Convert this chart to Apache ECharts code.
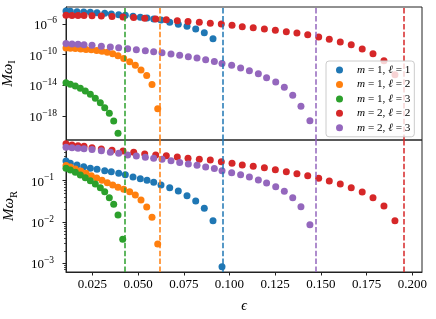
<!DOCTYPE html>
<html><head><meta charset="utf-8">
<script src="https://cdn.jsdelivr.net/npm/echarts@6/dist/echarts.min.js"></script>
<style>html,body{margin:0;padding:0;background:#fff}#c{width:436px;height:319px}</style>
</head><body><div id="c"></div>
<script>
// ---- data ----
const seriesNames = ['m=1,l=1', 'm=1,l=2', 'm=1,l=3', 'm=2,l=2', 'm=2,l=3'];
const seriesColors = ['#1f77b4', '#ff7f0e', '#2ca02c', '#d62728', '#9467bd'];

const m1l1Eps = [0.0106, 0.01296, 0.01662, 0.02029, 0.0239, 0.02756, 0.03177, 0.03538, 0.03943, 0.04304, 0.04725, 0.05124, 0.05491, 0.05857, 0.06256, 0.06732, 0.07202, 0.07678, 0.08154, 0.08624, 0.091, 0.09592];
const m1l1Im = [4.95e-5, 4.49e-5, 4.06e-5, 3.67e-5, 3.33e-5, 3.02e-5, 2.45e-5, 2.01e-5, 1.66e-5, 1.35e-5, 1.0e-5, 7.41e-6, 6.03e-6, 4.47e-6, 3.31e-6, 1.66e-6, 9.12e-7, 5.01e-7, 2.24e-7, 7.41e-8, 1.23e-8, null];
const m1l1Re = [0.30, 0.264, 0.240, 0.219, 0.1995, 0.189, 0.175, 0.165, 0.151, 0.140, 0.123, 0.112, 0.102, 0.0914, 0.0787, 0.0678, 0.0564, 0.0434, 0.0324, 0.0214, 0.0107, 8.3e-4];

const m1l2Eps = [0.0106, 0.01296, 0.0157, 0.01865, 0.02155, 0.02445, 0.0274, 0.0303, 0.0332, 0.03615, 0.03905, 0.04216, 0.04544, 0.04851, 0.05162, 0.05474, 0.05764, 0.06076];
const m1l2Im = [7.43e-10, 6.79e-10, 6.21e-10, 5.51e-10, 4.88e-10, 4.33e-10, 3.61e-10, 2.84e-10, 2.04e-10, 1.30e-10, 7.14e-11, 3.18e-11, 1.18e-11, 4.12e-12, 1.01e-12, 1.93e-13, 1.29e-14, 9.06e-18];
const m1l2Re = [0.234, 0.215, 0.192, 0.172, 0.151, 0.132, 0.116, 0.102, 0.0895, 0.0787, 0.0692, 0.0619, 0.0542, 0.0451, 0.0341, 0.0231, 0.0130, 0.00293];

const m1l3Eps = [0.0106, 0.01296, 0.0157, 0.01843, 0.02116, 0.0239, 0.02663, 0.02937, 0.03177, 0.03429, 0.03669, 0.03905, 0.04162];
const m1l3Im = [2.22e-14, 1.37e-14, 8.26e-15, 4.14e-15, 1.84e-15, 6.84e-16, 2.06e-16, 5.50e-17, 1.22e-17, 2.28e-18, 2.25e-19, 5.62e-21, null];
const m1l3Re = [0.1995, 0.182, 0.160, 0.137, 0.118, 0.100, 0.0832, 0.0678, 0.0542, 0.0387, 0.0269, 0.0148, 0.00381];

const m2l2Eps = [0.01061, 0.01389, 0.01717, 0.02045, 0.02483, 0.02991, 0.03577, 0.04178, 0.04763, 0.05365, 0.05966, 0.06546, 0.07147, 0.07733, 0.08351, 0.08952, 0.09554, 0.1014, 0.1070, 0.1130, 0.1191, 0.1251, 0.1311, 0.1369, 0.1428, 0.1488, 0.1546, 0.1606, 0.1666, 0.1726, 0.1785, 0.1845, 0.1905];
const m2l2Im = [1.36e-5, 1.32e-5, 1.28e-5, 1.24e-5, 1.17e-5, 1.10e-5, 9.51e-6, 8.18e-6, 6.82e-6, 5.53e-6, 4.49e-6, 3.53e-6, 2.69e-6, 2.12e-6, 1.67e-6, 1.23e-6, 1.0e-6, 6.76e-7, 4.45e-7, 3.30e-7, 2.23e-7, 1.51e-7, 9.91e-8, 6.71e-8, 4.03e-8, 2.02e-8, 1.01e-8, 4.50e-9, 2.0e-9, 5.50e-10, 1.34e-10, 1.64e-11, 2.45e-13];
const m2l2Re = [0.79, 0.731, 0.703, 0.681, 0.630, 0.586, 0.545, 0.524, 0.488, 0.444, 0.419, 0.403, 0.375, 0.348, 0.330, 0.317, 0.288, 0.264, 0.240, 0.223, 0.207, 0.185, 0.165, 0.148, 0.132, 0.114, 0.0984, 0.0832, 0.0678, 0.0532, 0.0387, 0.0244, 0.0107];

const m2l3Eps = [0.01061, 0.01389, 0.01717, 0.02045, 0.02483, 0.02993, 0.03485, 0.03941, 0.04433, 0.04907, 0.05399, 0.05855, 0.06311, 0.06803, 0.07277, 0.07751, 0.08225, 0.08699, 0.09173, 0.09592, 0.1012, 0.1061, 0.1109, 0.1158, 0.1203, 0.1253, 0.1300, 0.1346, 0.1391, 0.1440];
const m2l3Im = [2.87e-9, 2.54e-9, 2.25e-9, 2.0e-9, 1.67e-9, 1.28e-9, 1.0e-9, 7.89e-10, 6.03e-10, 4.46e-10, 3.30e-10, 2.45e-10, 1.81e-10, 1.23e-10, 8.30e-11, 5.46e-11, 3.69e-11, 2.21e-11, 1.29e-11, 7.08e-12, 4.12e-12, 1.83e-12, 8.15e-13, 3.31e-13, 1.0e-13, 2.74e-14, 5.58e-15, 5.06e-16, 1.86e-17, 2.47e-19];
const m2l3Re = [0.646, 0.624, 0.608, 0.592, 0.569, 0.533, 0.486, 0.460, 0.419, 0.396, 0.368, 0.348, 0.329, 0.305, 0.274, 0.254, 0.236, 0.215, 0.197, 0.175, 0.156, 0.140, 0.123, 0.104, 0.0879, 0.0716, 0.0553, 0.0387, 0.0234, 0.00861];

const critEps = [0.0963, 0.0616, 0.0425, 0.1955, 0.1473];

const xTicks = [0.025, 0.05, 0.075, 0.1, 0.125, 0.15, 0.175, 0.2];
const yTopTicks = [1e-18, 1e-14, 1e-10, 1e-6];
const yBotTicks = [1e-3, 1e-2, 1e-1];
const yBotMinor = [7e-4, 8e-4, 9e-4, 2e-3, 3e-3, 4e-3, 5e-3, 6e-3, 7e-3, 8e-3, 9e-3, 2e-2, 3e-2, 4e-2, 5e-2, 6e-2, 7e-2, 8e-2, 9e-2, 0.2, 0.3, 0.4, 0.5, 0.6, 0.7, 0.8, 0.9];

const xMin = 0.0106, xMax = 0.2053;
const yTopMin = 7.41e-22, yTopMax = 1.648e-4;
const yBotMin = 6.16e-4, yBotMax = 0.967;

// ---- build ----
const FONT = '"Liberation Serif", "DejaVu Serif", serif';
const allEps = [m1l1Eps, m1l2Eps, m1l3Eps, m2l2Eps, m2l3Eps];
const allIm = [m1l1Im, m1l2Im, m1l3Im, m2l2Im, m2l3Im];
const allRe = [m1l1Re, m1l2Re, m1l3Re, m2l2Re, m2l3Re];

function pairs(xs, ys) {
  const out = [];
  xs.forEach((x, i) => { if (ys[i] != null) out.push([x, ys[i]]); });
  return out;
}
function powLabel(v) {
  const e = Math.round(Math.log10(v));
  return '{b|10}{s|' + (e < 0 ? '\u2212' : '') + Math.abs(e) + '}';
}
const powRich = {
  b: { fontFamily: FONT, fontSize: 13, lineHeight: 16, verticalAlign: 'bottom', color: '#000' },
  s: { fontFamily: FONT, fontSize: 9.5, lineHeight: 9, verticalAlign: 'top', color: '#000' }
};

const series = [];
seriesNames.forEach((name, k) => {
  const mk = () => ({
    silent: true, symbol: 'none', label: { show: false }, animation: false, precision: 6,
    lineStyle: { color: seriesColors[k], type: [5.5, 2.4], width: 1.5, opacity: 1 },
    emphasis: { disabled: true },
    data: [{ xAxis: critEps[k] }]
  });
  series.push({
    type: 'scatter', name, xAxisIndex: 0, yAxisIndex: 0,
    data: pairs(allEps[k], allIm[k]), symbolSize: 7,
    itemStyle: { color: seriesColors[k], opacity: 1 },
    emphasis: { disabled: true }, markLine: mk()
  });
  series.push({
    type: 'scatter', name, xAxisIndex: 1, yAxisIndex: 1,
    data: pairs(allEps[k], allRe[k]), symbolSize: 7,
    itemStyle: { color: seriesColors[k], opacity: 1 },
    emphasis: { disabled: true }, markLine: mk()
  });
});

const legendLabels = {
  'm=1,l=1': ['1', '1'], 'm=1,l=2': ['1', '2'], 'm=1,l=3': ['1', '3'],
  'm=2,l=2': ['2', '2'], 'm=2,l=3': ['2', '3']
};

const axisLineStyle = { color: '#222', width: 1 };
const nameRich = {
  i: { fontFamily: FONT, fontSize: 15, fontStyle: 'italic', lineHeight: 18, verticalAlign: 'top', color: '#000' },
  s: { fontFamily: FONT, fontSize: 10.5, lineHeight: 10, verticalAlign: 'bottom', color: '#000' }
};

const option = {
  animation: false,
  backgroundColor: '#fff',
  grid: [
    { left: 66, top: 7, width: 356, height: 133, show: true, borderColor: '#222', borderWidth: 1, backgroundColor: 'transparent', containLabel: false, outerBoundsMode: 'none' },
    { left: 66, top: 140, width: 356, height: 132, show: true, borderColor: '#222', borderWidth: 1, backgroundColor: 'transparent', containLabel: false, outerBoundsMode: 'none' }
  ],
  xAxis: [
    { type: 'value', gridIndex: 0, min: xMin, max: xMax, axisLine: { show: false }, axisTick: { show: false }, axisLabel: { show: false }, splitLine: { show: false } },
    { type: 'value', gridIndex: 1, min: xMin, max: xMax,
      axisLine: { show: true, lineStyle: axisLineStyle },
      axisTick: { show: true, length: 3.5, lineStyle: axisLineStyle, customValues: xTicks },
      axisLabel: { show: true, customValues: xTicks, formatter: v => v.toFixed(3), fontFamily: FONT, fontSize: 13, color: '#000', margin: 6 },
      splitLine: { show: false },
      name: '\u03F5', nameLocation: 'middle', nameGap: 27,
      nameTextStyle: { fontFamily: FONT, fontSize: 14, fontStyle: 'italic', color: '#000' } }
  ],
  yAxis: [
    { type: 'log', gridIndex: 0, min: yTopMin, max: yTopMax,
      axisLine: { show: true, lineStyle: axisLineStyle },
      axisTick: { show: true, length: 3.5, lineStyle: axisLineStyle, customValues: yTopTicks },
      axisLabel: { show: true, customValues: yTopTicks, formatter: powLabel, rich: powRich, margin: 9 },
      splitLine: { show: false }, minorTick: { show: false },
      name: '{i|M\u03C9}{s|I}', nameLocation: 'middle', nameGap: 38, nameRotate: 90,
      nameTextStyle: { rich: nameRich } },
    { type: 'log', gridIndex: 1, min: yBotMin, max: yBotMax,
      axisLine: { show: true, lineStyle: axisLineStyle },
      axisTick: { show: true, length: 3.5, lineStyle: axisLineStyle, customValues: yBotTicks },
      axisLabel: { show: true, customValues: yBotTicks, formatter: powLabel, rich: powRich, margin: 12 },
      splitLine: { show: false }, minorTick: { show: false },
      name: '{i|M\u03C9}{s|R}', nameLocation: 'middle', nameGap: 38, nameRotate: 90,
      nameTextStyle: { rich: nameRich } },
    { type: 'log', gridIndex: 1, min: yBotMin, max: yBotMax, position: 'left',
      axisLine: { show: false },
      axisTick: { show: true, length: 2, lineStyle: { color: '#222', width: 0.8 }, customValues: yBotMinor },
      axisLabel: { show: false }, splitLine: { show: false } }
  ],
  legend: {
    orient: 'vertical', left: 326, top: 61,
    data: seriesNames,
    icon: 'circle', itemWidth: 7, itemHeight: 7, itemGap: 0.2,
    padding: [2, 4, 2, 10],
    backgroundColor: 'rgba(255,255,255,0.8)', borderColor: '#cccccc', borderWidth: 1, borderRadius: 3,
    selectedMode: false,
    formatter: name => {
      const p = legendLabels[name];
      return '{i|m}{t| = ' + p[0] + ', }{i|\u2113}{t| = ' + p[1] + '}';
    },
    textStyle: {
      fontFamily: FONT, fontSize: 11.2, lineHeight: 14.2, color: '#000', padding: [0, 0, 0, 9],
      rich: {
        i: { fontFamily: FONT, fontSize: 11.2, fontStyle: 'italic', lineHeight: 14.2, color: '#000' },
        t: { fontFamily: FONT, fontSize: 11.2, lineHeight: 14.2, color: '#000' }
      }
    },
    z: 10
  },
  series
};

const chart = echarts.init(document.getElementById('c'), null, { renderer: 'canvas' });
chart.setOption(option);
</script></body></html>
